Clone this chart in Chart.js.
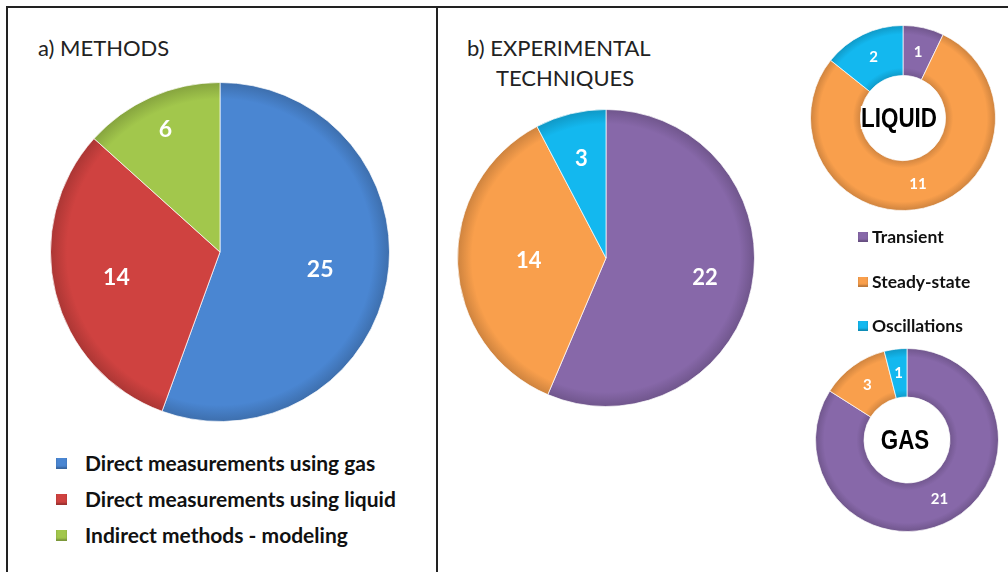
<!DOCTYPE html>
<html>
<head>
<meta charset="utf-8">
<script src="https://cdn.jsdelivr.net/npm/chart.js@4.4.0/dist/chart.umd.min.js"></script>
<style>
    body { margin: 0; background: #fff; width: 1008px; height: 572px; overflow: hidden; position: relative; font-family: Lato, "Open Sans", sans-serif; }
    .frame { position: absolute; left: 6px; top: 6px; width: 1010px; height: 600px; border: 2px solid #222; box-sizing: border-box; }
    .divider { position: absolute; left: 436px; top: 6px; width: 2px; height: 600px; background: #222; }
    canvas { position: absolute; }
    .title { position: absolute; font-size: 22px; color: #222; line-height: 30px; white-space: nowrap; }
    .legend { position: absolute; font-weight: bold; color: #111; white-space: nowrap; }
    .legend .sw { position: absolute; box-shadow: inset 0 -2px 2px rgba(0,0,0,0.25); }
</style>
</head>
<body>
<div class="frame"></div>
<div class="divider"></div>

<div class="title" style="left:38px; top:33px;">a) METHODS</div>
<div class="title" style="left:467px; top:33px;">b) EXPERIMENTAL<br><span style="padding-left:29px">TECHNIQUES</span></div>

<canvas id="methods-chart" width="340" height="340" style="left:50px; top:82px;"></canvas>
<canvas id="techniques-chart" width="298" height="298" style="left:457px; top:109px;"></canvas>
<canvas id="liquid-chart" width="186" height="186" style="left:810px; top:25px;"></canvas>
<canvas id="gas-chart" width="184" height="184" style="left:815px; top:348px;"></canvas>

<div id="methods-legend" class="legend" style="left:56px; top:445px; font-size:21px;"></div>
<div id="techniques-legend" class="legend" style="left:858px; top:215px; font-size:17.5px;"></div>

<script>
// a) methods
const methodLabels = ['Direct measurements using gas', 'Direct measurements using liquid', 'Indirect methods - modeling'];
const methodValues = [25, 14, 6];
const methodColors = ['#4a86d2', '#cf4240', '#a2c74c'];

// b) experimental techniques
const techLabels = ['Transient', 'Steady-state', 'Oscillations'];
const techColors = ['#8768a9', '#f99f4c', '#13b8ef'];
const techValues = [22, 14, 3];
const liquidValues = [1, 11, 2];
const gasValues = [21, 3, 1];

// Darken a hex colour
function darken(hex, f) {
    const n = parseInt(hex.slice(1), 16);
    const r = Math.round(((n >> 16) & 255) * f);
    const g = Math.round(((n >> 8) & 255) * f);
    const b = Math.round((n & 255) * f);
    return `rgb(${r},${g},${b})`;
}

// Radial shading so the slices get a soft darker rim
function shaded(colors, cut) {
    return ctx => {
        const chart = ctx.chart;
        const base = colors[ctx.dataIndex];
        const area = chart.chartArea;
        if (!area) return base;
        const cx = (area.left + area.right) / 2;
        const cy = (area.top + area.bottom) / 2;
        const r = Math.min(area.width, area.height) / 2;
        const g = chart.ctx.createRadialGradient(cx, cy, 0, cx, cy, r);
        if (cut > 0) {
            g.addColorStop(cut, darken(base, 0.85));
            g.addColorStop(cut + 0.08, base);
        } else {
            g.addColorStop(0, base);
        }
        g.addColorStop(0.9, base);
        g.addColorStop(1, darken(base, 0.82));
        return g;
    };
}

// Values written inside each slice
const valueLabels = {
    id: 'valueLabels',
    afterDatasetsDraw(chart, args, opts) {
        const ctx = chart.ctx;
        const meta = chart.getDatasetMeta(0);
        const values = chart.data.datasets[0].data;
        ctx.save();
        ctx.font = `bold ${opts.size}px Lato, "Open Sans", sans-serif`;
        ctx.fillStyle = '#fff';
        ctx.textAlign = 'center';
        ctx.textBaseline = 'middle';
        meta.data.forEach((arc, i) => {
            const p = arc.getProps(['x', 'y', 'startAngle', 'endAngle', 'innerRadius', 'outerRadius'], true);
            const mid = (p.startAngle + p.endAngle) / 2;
            const f = Array.isArray(opts.pos) ? opts.pos[i] : opts.pos;
            const r = p.innerRadius + (p.outerRadius - p.innerRadius) * f;
            ctx.fillText(values[i], p.x + Math.cos(mid) * r, p.y + Math.sin(mid) * r);
        });
        ctx.restore();
    }
};

// Word in the hole of a doughnut
const centerText = {
    id: 'centerText',
    afterDraw(chart, args, opts) {
        if (!opts.text) return;
        const ctx = chart.ctx;
        const a = chart.chartArea;
        const x = (a.left + a.right) / 2 + (opts.dx || 0);
        const y = (a.top + a.bottom) / 2 + 1;
        ctx.save();
        ctx.translate(x, y);
        ctx.scale(0.8, 1);
        ctx.font = 'bold 28px "Liberation Sans", Arial, sans-serif';
        ctx.textAlign = 'center';
        ctx.textBaseline = 'middle';
        ctx.lineWidth = 4;
        ctx.strokeStyle = '#fff';
        ctx.strokeText(opts.text, 0, 0);
        ctx.fillStyle = '#000';
        ctx.fillText(opts.text, 0, 0);
        ctx.restore();
    }
};

function makePie(id, labels, values, colors, cut, labelSize, labelPos, text, dx) {
    return new Chart(document.getElementById(id).getContext('2d'), {
        type: cut > 0 ? 'doughnut' : 'pie',
        data: {
            labels: labels,
            datasets: [{
                data: values,
                backgroundColor: shaded(colors, cut),
                borderColor: 'rgba(255,255,255,0.7)',
                borderWidth: 1
            }]
        },
        options: {
            responsive: false,
            animation: false,
            cutout: (cut * 100) + '%',
            layout: { padding: 0 },
            events: [],
            plugins: {
                legend: { display: false },
                tooltip: { enabled: false },
                valueLabels: { size: labelSize, pos: labelPos },
                centerText: { text: text, dx: dx }
            }
        },
        plugins: [valueLabels, centerText]
    });
}

makePie('methods-chart', methodLabels, methodValues, methodColors, 0, 23, [0.6, 0.63, 0.79]);
makePie('techniques-chart', techLabels, techValues, techColors, 0, 22, [0.68, 0.52, 0.69]);
makePie('liquid-chart', techLabels, liquidValues, techColors, 0.46, 15, 0.5, 'LIQUID', -4);
makePie('gas-chart', techLabels, gasValues, techColors, 0.47, 15, 0.5, 'GAS', -2);

// Legends built from the same arrays
function buildLegend(id, labels, colors, rowH, sw, textX) {
    const box = document.getElementById(id);
    labels.forEach((label, i) => {
        const row = document.createElement('div');
        row.style.position = 'absolute';
        row.style.top = (i * rowH) + 'px';
        row.style.height = rowH + 'px';
        row.style.lineHeight = rowH + 'px';
        row.style.left = '0px';
        const s = document.createElement('span');
        s.className = 'sw';
        s.style.background = colors[i];
        s.style.width = sw + 'px';
        s.style.height = sw + 'px';
        s.style.left = '0px';
        s.style.top = ((rowH - sw) / 2) + 'px';
        const t = document.createElement('span');
        t.textContent = label;
        t.style.position = 'absolute';
        t.style.left = textX + 'px';
        row.appendChild(s);
        row.appendChild(t);
        box.appendChild(row);
    });
}

buildLegend('methods-legend', methodLabels, methodColors, 36, 11, 29);
buildLegend('techniques-legend', techLabels, techColors, 44.5, 10, 14);
</script>
</body>
</html>
